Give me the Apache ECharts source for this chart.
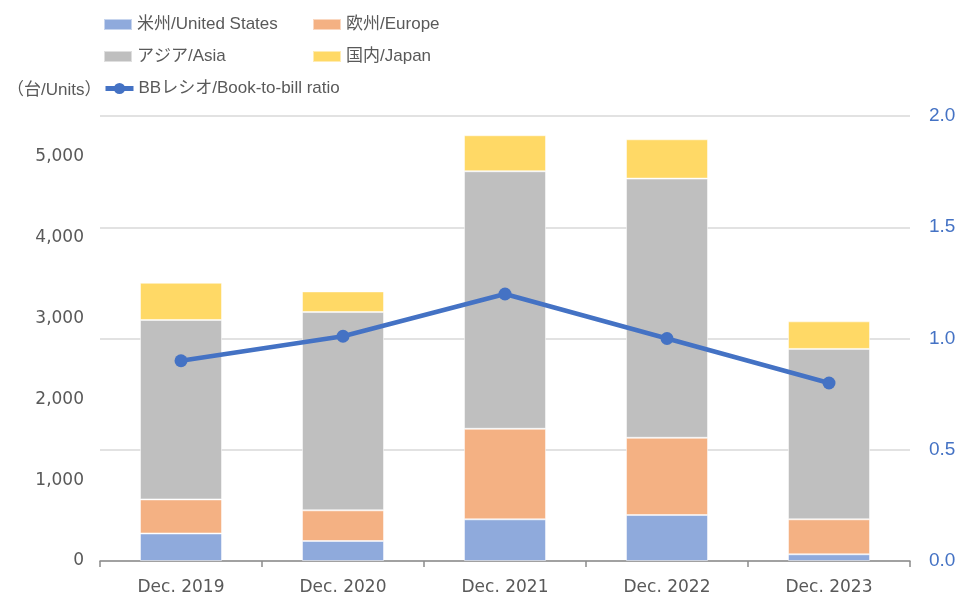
<!DOCTYPE html>
<html>
<head>
<meta charset="utf-8">
<script src="https://cdn.jsdelivr.net/npm/echarts@6/dist/echarts.min.js"></script>
<style>
    html, body { margin: 0; padding: 0; background: #fff; }
    #chart { width: 961px; height: 596px; }
</style>
</head>
<body>
<div id="chart"></div>
<script>
    // 受注台数（地域別）とBBレシオ
    const categories = ['Dec. 2019', 'Dec. 2020', 'Dec. 2021', 'Dec. 2022', 'Dec. 2023'];
    const usUnits = [340, 247, 515, 568, 83];
    const europeUnits = [421, 379, 1119, 955, 432];
    const asiaUnits = [2218, 2451, 3183, 3203, 2106];
    const japanUnits = [460, 255, 445, 486, 341];
    const bbRatio = [0.90, 1.01, 1.20, 1.00, 0.80];

    const names = ['米州/United States', '欧州/Europe', 'アジア/Asia', '国内/Japan', 'BBレシオ/Book-to-bill ratio'];
    const colors = ['#8FAADC', '#F4B183', '#BFBFBF', '#FFD966', '#4472C4'];

    const fontLegend = '"Liberation Sans", "Noto Sans CJK JP", sans-serif';
    const fontAxis = '"DejaVu Sans", "Noto Sans CJK JP", sans-serif';

    const chart = echarts.init(document.getElementById('chart'));

    const legendAt = (name, left, top) => ({
        data: [name],
        left,
        top,
        padding: 0,
        icon: 'rect',
        itemWidth: 28,
        itemHeight: 11,
        itemGap: 0,
        textStyle: { fontFamily: fontLegend, fontSize: 17, color: '#595959' }
    });

    const barSeries = (name, data, color) => ({
        name,
        type: 'bar',
        stack: 'units',
        barWidth: 82,
        data,
        itemStyle: { color, borderColor: 'rgba(255,255,255,0.5)', borderWidth: 1 }
    });

    // 折れ線の凡例はマーカー付きの線
    const lineLegend = legendAt(names[4], 103, 80);
    delete lineLegend.icon;
    lineLegend.itemHeight = 14;
    lineLegend.lineStyle = { width: 5 };

    const option = {
        animation: false,
        title: {
            text: '（台/Units）',
            left: 2,
            top: 77,
            textStyle: { fontFamily: fontLegend, fontSize: 17, fontWeight: 'normal', color: '#595959' }
        },
        legend: [
            legendAt(names[0], 103, 16),
            legendAt(names[1], 312, 16),
            legendAt(names[2], 103, 48),
            legendAt(names[3], 312, 48),
            lineLegend
        ],
        grid: {
            left: 100,
            right: 51,
            top: 116,
            bottom: 34
        },
        xAxis: {
            type: 'category',
            data: categories,
            axisLine: { lineStyle: { color: '#8C8C8C', width: 1.5 } },
            axisTick: { show: true, length: 6, lineStyle: { color: '#8C8C8C', width: 1.5 } },
            axisLabel: { fontFamily: fontAxis, fontSize: 17, color: '#595959', margin: 18 }
        },
        yAxis: [
            {
                type: 'value',
                min: 0,
                max: 5500,
                interval: 1000,
                splitLine: { show: false },
                axisLine: { show: false },
                axisTick: { show: false },
                axisLabel: {
                    fontFamily: fontAxis,
                    fontSize: 17,
                    color: '#595959',
                    margin: 16,
                    formatter: v => (v > 5000 ? '' : v.toLocaleString('en-US'))
                }
            },
            {
                type: 'value',
                min: 0,
                max: 2,
                interval: 0.5,
                position: 'right',
                splitLine: { show: true, lineStyle: { color: '#D9D9D9', width: 1.5 } },
                axisLine: { show: false },
                axisTick: { show: false },
                axisLabel: {
                    fontFamily: fontLegend,
                    fontSize: 19,
                    color: '#4472C4',
                    margin: 19,
                    formatter: v => v.toFixed(1)
                }
            }
        ],
        series: [
            barSeries(names[0], usUnits, colors[0]),
            barSeries(names[1], europeUnits, colors[1]),
            barSeries(names[2], asiaUnits, colors[2]),
            barSeries(names[3], japanUnits, colors[3]),
            {
                name: names[4],
                type: 'line',
                yAxisIndex: 1,
                data: bbRatio,
                symbol: 'circle',
                symbolSize: 13,
                z: 5,
                itemStyle: { color: colors[4] },
                lineStyle: { color: colors[4], width: 4.5 }
            }
        ]
    };

    chart.setOption(option);
</script>
</body>
</html>
